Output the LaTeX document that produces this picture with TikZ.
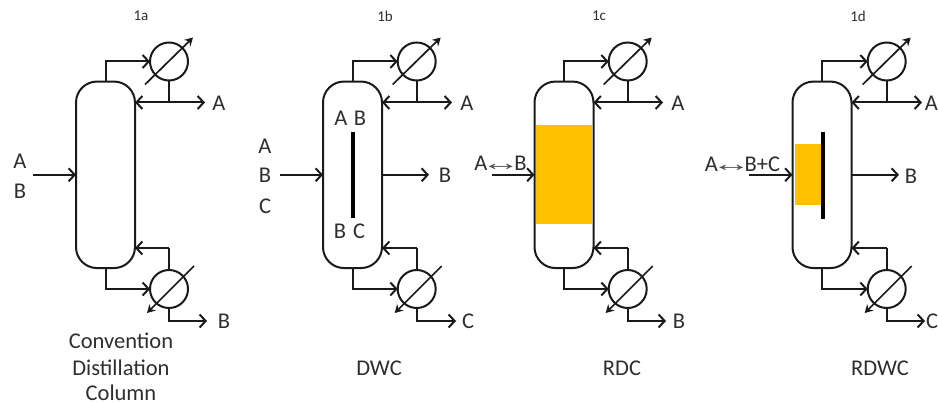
\documentclass[tikz,border=0pt]{standalone}
\usepackage{fontspec}
\setmainfont{Carlito}
\newfontfamily\arrowfont{Liberation Sans}
\usetikzlibrary{arrows.meta,calc}
\definecolor{ink}{HTML}{1A1A1A}
\definecolor{txt}{HTML}{2E2E2E}
\definecolor{rxn}{HTML}{FFC000}
\tikzset{
  column/.style={draw=ink,line width=2pt,rounded corners=21pt,minimum width=59pt,minimum height=186.5pt,inner sep=0pt,outer sep=0pt},
  hx/.style={circle,draw=ink,line width=2pt,minimum size=38pt,inner sep=0pt,outer sep=0pt},
  pipe/.style={draw=ink,line width=2pt},
  flow/.style={pipe,-{Straight Barb[length=6pt,width=13pt]}},
  util/.style={draw=ink,line width=1.7pt,-{Stealth[length=8pt,width=9pt]}},
  wall/.style={draw=black,line width=3.2pt},
  rzone/.style={fill=rxn,inner sep=0pt,outer sep=0pt},
  lab/.style={font=\fontsize{22.5}{25}\selectfont,text=txt,inner sep=0pt},
  tag/.style={font=\fontsize{15}{18}\selectfont,text=txt,inner sep=0pt}
}
% #1 id, #2 column centre x, #3 condenser x, #4 overhead end x, #5 bottoms end x,
% #6 top label x, #7 top text, #8 bottom label x, #9 bottom text
\newcommand{\tower}[9]{%
  \node[column] (#1) at (#2,174.8) {};
  \node[hx] (#1c) at (#3,61.5) {};
  \node[hx] (#1r) at (#3,289) {};
  \coordinate (#1rt) at (#2+29.5,102.5);
  \coordinate (#1rb) at (#2+29.5,248);
  \coordinate (#1j) at (#3,102.5);
  \coordinate (#1k) at (#3,248);
  \coordinate (#1pa) at (#4,102.5);
  \coordinate (#1pb) at (#5,321);
  \coordinate (#1pm) at (#3,321);
  \coordinate (#1d1) at ($(#1c)+(-24,23)$);
  \coordinate (#1d2) at ($(#1c)+(24,-24)$);
  \coordinate (#1d3) at ($(#1r)+(25,-23)$);
  \coordinate (#1d4) at ($(#1r)+(-22,24)$);
  \draw[flow] (#1.north) |- (#1c.west);
  \draw[flow] (#1.south) |- (#1r.west);
  \draw[pipe] (#1c.south) -- (#1j);
  \draw[flow] (#1j) -- (#1rt);
  \draw[flow] (#1j) -- (#1pa);
  \draw[flow] (#1k) -- (#1rb);
  \draw[pipe] (#1r.north) -- (#1k);
  \draw[flow] (#1r.south) -- (#1pm) -- (#1pb);
  \draw[util] (#1d1) -- (#1d2);
  \draw[util] (#1d3) -- (#1d4);
  \node[lab] (#1la) at (#6,103) {#7};
  \node[lab] (#1lb) at (#8,321) {#9};
}
\newcommand{\dbl}{\hspace{-6.5pt}{\arrowfont\fontsize{19}{24}\selectfont\color{txt!85}\scalebox{2.1}[1.15]{↔}}\hspace{-6.5pt}}
\begin{document}
\begin{tikzpicture}[x=1pt,y=-1pt]
\useasboundingbox (0,0) rectangle (938,404);
% reaction zones
\node[rzone,minimum width=56pt,minimum height=99pt] (zc) at (564,174.5) {};
\node[rzone,minimum width=26pt,minimum height=61pt] (zd) at (807.5,174.5) {};
% towers
\tower{a}{105.5}{169}{205}{207}{219}{A}{224}{B}
\tower{b}{352.5}{416.7}{452}{456}{467}{A}{468}{C}
\tower{c}{564}{627.7}{663}{666}{678}{A}{679}{B}
\tower{d}{822}{886.7}{922}{925}{931.5}{A}{932}{C}
% dividing walls
\coordinate (w1) at (353,132); \coordinate (w2) at (353,218);
\coordinate (w3) at (823,132); \coordinate (w4) at (823,219);
\draw[wall] (w1) -- (w2);
\draw[wall] (w3) -- (w4);
% feeds
\coordinate (fa) at (33,174.8); \coordinate (fb) at (280,174.8);
\coordinate (fc) at (492,174.8); \coordinate (fd) at (749,174.8);
\draw[flow] (fa) -- (a.west);
\draw[flow] (fb) -- (b.west);
\draw[flow] (fc) -- (c.west);
\draw[flow] (fd) -- (d.west);
% side draws
\coordinate (sb) at (429,174.8); \coordinate (sd) at (899,174.8);
\draw[flow] (b.east) -- (sb);
\draw[flow] (d.east) -- (sd);
% feed and column labels
\node[lab] (l1) at (20,161) {A};
\node[lab] (l2) at (20,191) {B};
\node[lab] (l3) at (265,146) {A};
\node[lab] (l4) at (265,175) {B};
\node[lab] (l5) at (265,206) {C};
\node[lab] (l6) at (341,118) {A};
\node[lab] (l7) at (360,118) {B};
\node[lab] (l8) at (340,231) {B};
\node[lab] (l9) at (359,231) {C};
\node[lab] (l10) at (445,175) {B};
\node[lab] (l11) at (911,176) {B};
\node[lab] (l12) at (500.5,163) {A\dbl B};
\node[lab] (l13) at (742.5,164) {A\dbl B+C};
% titles
\node[tag] (t1) at (141,16) {1a};
\node[tag] (t2) at (385,16) {1b};
\node[tag] (t3) at (599,16) {1c};
\node[tag] (t4) at (858,16) {1d};
\node[lab] (n1) at (121,341) {Convention};
\node[lab] (n2) at (121,368) {Distillation};
\node[lab] (n3) at (121,393) {Column};
\node[lab] (n4) at (379,368) {DWC};
\node[lab] (n5) at (622,368) {RDC};
\node[lab] (n6) at (880,368) {RDWC};
\end{tikzpicture}
\end{document}
